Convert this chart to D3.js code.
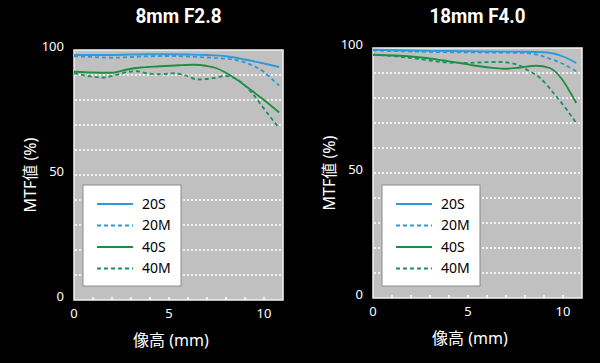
<!DOCTYPE html>
<html>
<head>
<meta charset="utf-8">
<script src="https://cdn.jsdelivr.net/npm/d3@7"></script>
<style>
  body { margin: 0; background: #000; }
  svg { display: block; }
  text { font-family: "Noto Sans", "Noto Sans CJK JP", sans-serif; fill: #fff; }
</style>
</head>
<body>
<script>
// MTF charts, two lenses side by side
var titles = ["8mm F2.8", "18mm F4.0"];
var seriesNames = ["20S", "20M", "40S", "40M"];
var xTicks = [0, 5, 10];
var yTicks = [0, 50, 100];
var gridLines = [10, 20, 30, 40, 50, 60, 70, 80, 90];

// 8mm F2.8  [image height mm, MTF %]
var wide20S = [[0,98],[1,98],[2,98],[3,98.2],[4,98.3],[5,98.3],[6,98.2],[7,98],[8,97.5],[9,96.2],[10,94.6],[10.8,93.2]];
var wide20M = [[0,97.5],[1,97.2],[2,96.9],[3,97.2],[4,97.5],[5,97.6],[6,97.4],[7,97],[8,96.5],[8.5,96],[9,95],[9.5,93.4],[10,91.2],[10.5,87.8],[10.8,85.8]];
var wide40S = [[0,91.3],[1,91],[2,90.9],[2.8,92.2],[3.5,93],[4.5,93.5],[5.5,93.9],[6.3,94.1],[7,93.6],[7.5,92.7],[7.9,91.3],[8.6,88],[9.4,83.5],[10,80],[10.8,75]];
var wide40M = [[0,90.7],[0.5,89.9],[1,89.3],[1.5,89],[2.2,90],[2.8,91.2],[3.3,91.5],[3.8,90.7],[4.5,90.3],[5.3,90.7],[5.9,89.7],[6.5,88.2],[7.2,88.6],[8,89.6],[8.6,88.2],[9.4,82.5],[10.1,75.5],[10.8,68.7]];

// 18mm F4.0
var tele20S = [[0,99.3],[2,99],[4,98.8],[6,98.6],[8,98.5],[9,98.3],[9.5,97.8],[10,96.6],[10.7,94]];
var tele20M = [[0,99],[2,98.6],[4,98.3],[6,98.2],[8,98],[8.6,97.4],[9.2,96],[9.9,94],[10.7,90.7]];
var tele40S = [[0,97.3],[1.1,97],[2,96.6],[2.8,96],[3.7,95],[4.6,94],[5.3,93],[6,92.3],[6.9,91.7],[7.75,92.2],[8.6,92.9],[9.3,92],[9.9,88],[10.4,82],[10.7,78]];
var tele40M = [[0,97.3],[1,96.8],[2,96],[3,95],[3.7,94.3],[4.9,94],[5.8,94.3],[6.7,94.4],[7.6,93.3],[8.1,91.3],[8.8,88],[9.5,82],[10.2,75.3],[10.7,70]];

var panels = [
  {title: titles[0], left: 74, top: 50, titleLen: 86, series: [wide20S, wide20M, wide40S, wide40M]},
  {title: titles[1], left: 373, top: 48, titleLen: 96, series: [tele20S, tele20M, tele40S, tele40M]}
];

var styles = [
  {color: "#2e9ad9", dash: null},
  {color: "#2e9ad9", dash: "4,3"},
  {color: "#1f8f3f", dash: null},
  {color: "#1c9060", dash: "4,3"}
];

var W = 600, H = 363, pw = 209, ph = 250;

var svg = d3.select("body").append("svg")
    .attr("width", W)
    .attr("height", H);

svg.append("rect").attr("width", W).attr("height", H).attr("fill", "#000");

panels.forEach(function(p) {
  var x = d3.scaleLinear().domain([0, 11]).range([0, pw]),
      y = d3.scaleLinear().domain([0, 100]).range([ph, 0]);

  var g = svg.append("g")
      .attr("transform", "translate(" + p.left + "," + p.top + ")");

  g.append("rect")
      .attr("width", pw)
      .attr("height", ph)
      .attr("fill", "#c0c0c0")
      .attr("stroke", "#f2f2f2")
      .attr("stroke-width", 1.5);

  g.selectAll(".grid")
      .data(gridLines)
    .enter().append("line")
      .attr("x1", 1).attr("x2", pw - 1)
      .attr("y1", y).attr("y2", y)
      .attr("stroke", "#fff")
      .attr("stroke-width", 1.5)
      .attr("stroke-dasharray", "2,2");

  // small inner ticks along the bottom
  g.selectAll(".tick")
      .data(d3.range(1, 11))
    .enter().append("line")
      .attr("x1", x).attr("x2", x)
      .attr("y1", ph).attr("y2", ph - 3)
      .attr("stroke", "#fff")
      .attr("stroke-width", 1.5);

  var line = d3.line()
      .x(function(d) { return x(d[0]); })
      .y(function(d) { return y(d[1]); })
      .curve(d3.curveMonotoneX);

  g.selectAll(".series")
      .data(p.series)
    .enter().append("path")
      .attr("d", line)
      .attr("fill", "none")
      .attr("stroke", function(d, i) { return styles[i].color; })
      .attr("stroke-width", 1.8)
      .attr("stroke-dasharray", function(d, i) { return styles[i].dash; });

  // axis labels
  g.selectAll(".xl")
      .data(xTicks)
    .enter().append("text")
      .attr("x", x)
      .attr("y", ph + 18)
      .attr("text-anchor", "middle")
      .style("font-size", "13px")
      .text(function(d) { return d; });

  g.selectAll(".yl")
      .data(yTicks)
    .enter().append("text")
      .attr("x", -10)
      .attr("y", y)
      .attr("dy", "0.1em")
      .attr("text-anchor", "end")
      .style("font-size", "13px")
      .text(function(d) { return d; });

  g.append("text")
      .attr("x", x(5.1))
      .attr("y", ph + 46)
      .attr("text-anchor", "middle")
      .style("font-size", "16px")
      .text("像高 (mm)");

  g.append("text")
      .attr("transform", "translate(-38," + (ph / 2) + ") rotate(-90)")
      .attr("text-anchor", "middle")
      .style("font-size", "16px")
      .text("MTF値 (%)");

  g.append("text")
      .attr("x", pw / 2)
      .attr("y", 23 - p.top)
      .attr("text-anchor", "middle")
      .attr("textLength", p.titleLen)
      .attr("lengthAdjust", "spacingAndGlyphs")
      .style("font-family", "Roboto, sans-serif")
      .style("font-weight", "bold")
      .style("font-size", "20px")
      .text(p.title);

  // legend
  var lg = g.append("g")
      .attr("transform", "translate(9," + (185 - p.top) + ")");

  lg.append("rect")
      .attr("width", 98)
      .attr("height", 101)
      .attr("fill", "#fff")
      .attr("stroke", "#8a8a8a")
      .attr("stroke-width", 1);

  var item = lg.selectAll(".item")
      .data(seriesNames)
    .enter().append("g")
      .attr("transform", function(d, i) { return "translate(0," + (19 + i * 21.5) + ")"; });

  item.append("line")
      .attr("x1", 14).attr("x2", 50)
      .attr("stroke", function(d, i) { return styles[i].color; })
      .attr("stroke-width", 1.8)
      .attr("stroke-dasharray", function(d, i) { return styles[i].dash; });

  item.append("text")
      .attr("x", 59)
      .attr("dy", "0.35em")
      .style("font-size", "14px")
      .style("fill", "#000")
      .text(function(d) { return d; });
});
</script>
</body>
</html>
